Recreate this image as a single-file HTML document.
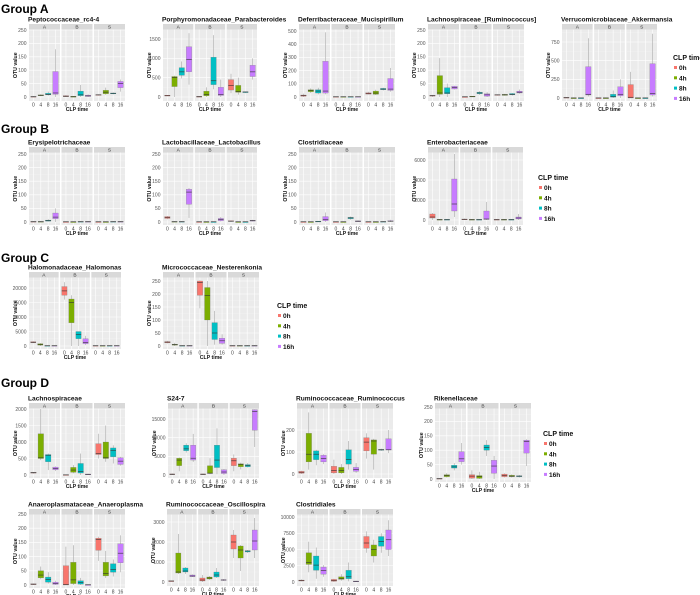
<!DOCTYPE html>
<html><head><meta charset="utf-8">
<style>
html,body{margin:0;padding:0;background:#fff;}
svg{display:block;font-family:"Liberation Sans",Arial,sans-serif;}
</style></head>
<body>
<svg id="fig" width="700" height="595" viewBox="0 0 700 595" xmlns="http://www.w3.org/2000/svg">
<text x="1" y="13" font-size="12" font-weight="bold">Group A</text>
<text x="1" y="133" font-size="12" font-weight="bold">Group B</text>
<text x="1" y="262" font-size="12" font-weight="bold">Group C</text>
<text x="1" y="387" font-size="12" font-weight="bold">Group D</text>
</svg>
<script>
const facets = ["A","B","S"];
const xLabels = ["0","4","8","16"];
const legendLabels = ["0h","4h","8h","16h"];
const colors = ["#F8766D","#7CAE00","#00BFC4","#C77CFF"];

// Each facet: 4 boxes of [min,q1,median,q3,max]
const pepA=[[0,0,1,2,3],[3,5,6,8,10],[5,8,10,14,20],[0,10,15,95,178]];
const pepB=[[0,1,3,5,7],[0,1,2,2,3],[0,5,8,22,45],[0,2,4,7,10]];
const pepS=[[5,7,8,9,10],[8,12,18,25,35],[10,12,13,15,17],[20,35,50,58,65]];
const parA=[[30,35,40,45,50],[0,270,500,530,550],[480,560,650,760,920],[320,650,970,1300,1650]];
const parB=[[0,5,10,15,20],[0,30,60,150,250],[200,320,420,1030,1600],[0,40,70,250,450]];
const parS=[[100,180,300,450,600],[60,120,140,300,500],[100,120,130,135,140],[450,530,650,820,1000]];
const mucA=[[0,5,10,15,25],[30,40,50,55,65],[20,30,45,55,70],[20,30,45,270,490]];
const mucB=[[0,1,2,3,4],[0,1,2,3,4],[0,1,2,3,4],[0,1,2,3,4]];
const mucS=[[20,22,28,32,40],[15,20,30,45,55],[50,55,60,65,70],[40,50,60,140,220]];
const rumA=[[0,3,5,6,8],[0,10,15,80,145],[0,12,15,35,50],[28,30,35,40,42]];
const rumB=[[0,0,1,1,2],[0,1,2,3,4],[8,12,15,18,22],[0,3,8,12,18]];
const rumS=[[5,7,8,9,10],[5,6,8,10,12],[5,8,10,13,15],[12,15,18,22,28]];
const akkA=[[0,0,5,8,10],[0,0,1,2,3],[0,0,1,2,3],[20,40,50,420,800]];
const akkB=[[0,0,1,2,3],[0,0,1,2,3],[0,10,20,50,100],[0,30,50,150,250]];
const akkS=[[0,0,10,180,350],[0,0,1,2,3],[0,0,1,2,3],[20,40,60,460,860]];
const eryA=[[0,0,1,2,3],[0,0,1,2,3],[2,3,5,7,10],[0,12,18,33,50]];
const eryB=[[0,0,1,1,2],[0,0,1,1,2],[0,0,1,2,3],[0,0,1,2,3]];
const eryS=[[0,0,1,1,2],[0,0,1,1,2],[0,0,1,2,3],[0,0,1,2,3]];
const lacA=[[10,13,17,20,22],[0,0,1,2,3],[0,0,1,2,3],[15,65,110,120,125]];
const lacB=[[0,0,1,1,2],[0,0,1,1,2],[0,0,1,1,2],[2,5,10,13,18]];
const lacS=[[0,2,3,5,6],[0,0,1,1,2],[0,0,1,1,2],[2,3,5,6,8]];
const cloA=[[0,0,1,1,2],[0,0,1,1,2],[0,1,2,3,4],[0,5,10,20,35]];
const cloB=[[0,0,1,1,2],[0,0,1,1,2],[8,12,15,17,20],[0,2,3,4,6]];
const cloS=[[0,0,1,1,2],[0,0,1,1,2],[0,0,1,2,3],[0,2,3,5,8]];
const entA=[[0,200,300,600,700],[0,20,40,60,80],[0,20,40,60,80],[300,900,1600,4100,6600]];
const entB=[[0,40,60,100,150],[0,20,40,60,80],[0,20,40,60,80],[0,50,100,900,1800]];
const entS=[[0,20,40,60,80],[0,20,40,60,80],[0,20,40,60,80],[0,100,200,300,600]];
const halA=[[1000,1100,1300,1500,1600],[0,300,500,800,1000],[0,50,100,150,200],[0,50,100,150,200]];
const halB=[[16000,17500,19000,20500,22000],[0,8000,15000,16200,17500],[0,2500,4000,5000,5000],[300,800,1200,2500,3500]];
const halS=[[0,50,100,150,200],[0,50,100,150,200],[0,50,100,150,200],[0,50,100,150,200]];
const nesA=[[10,12,15,17,20],[0,3,5,7,12],[0,0,1,2,3],[0,0,1,2,3]];
const nesB=[[145,195,245,250,252],[0,100,195,225,250],[5,25,50,90,135],[5,10,20,30,45]];
const nesS=[[0,0,1,2,3],[0,0,1,2,3],[0,0,1,2,3],[0,0,1,2,3]];
const lchA=[[40,60,70,80,90],[450,500,520,1250,2000],[150,400,600,620,650],[120,160,200,240,260]];
const lchB=[[0,0,5,10,15],[50,80,150,230,300],[0,60,100,350,650],[0,10,20,30,40]];
const lchS=[[500,620,650,950,1250],[400,500,520,1000,1500],[350,550,750,820,900],[280,320,420,520,550]];
const s24A=[[0,100,200,300,400],[1000,2500,4000,4500,4700],[6000,6500,7000,8000,8500],[3500,4000,4500,8000,11000]];
const s24B=[[0,100,200,300,400],[200,400,500,2500,4500],[200,2000,4000,8000,12500],[0,400,800,1400,1600]];
const s24S=[[1000,2500,3800,4500,5500],[1500,2200,2800,3000,3300],[2000,2200,2500,2800,3200],[7500,12000,17000,17500,17600]];
const rcoA=[[0,3,8,12,15],[20,55,90,185,280],[40,65,90,105,110],[45,55,70,85,90]];
const rcoB=[[0,5,15,35,65],[0,5,15,30,45],[20,45,65,110,150],[5,12,20,30,50]];
const rcoS=[[70,105,145,165,185],[20,90,150,155,160],[105,108,110,112,115],[95,110,110,160,200]];
const rikA=[[0,0,1,2,3],[5,8,12,15,20],[30,38,42,48,55],[50,60,70,95,125]];
const rikB=[[0,3,10,15,30],[0,2,8,12,25],[80,100,110,118,135],[0,20,45,65,80]];
const rikS=[[5,8,12,17,20],[5,8,10,13,16],[5,8,10,11,14],[45,90,130,135,138]];
const anaA=[[0,2,3,4,5],[20,25,35,50,65],[5,10,20,28,45],[0,2,5,10,15]];
const anaB=[[0,0,2,68,135],[0,5,18,80,140],[0,3,8,15,25],[0,0,1,1,2]];
const anaS=[[85,122,160,165,170],[25,32,40,80,120],[30,45,55,75,90],[45,78,112,145,175]];
const oscA=[[30,40,50,60,70],[400,450,500,1450,2400],[400,500,550,700,750],[250,270,300,350,380]];
const oscB=[[0,50,100,200,350],[100,150,200,250,300],[200,250,350,500,700],[50,80,100,120,150]];
const oscS=[[1200,1650,2000,2350,2600],[550,1200,1600,1800,1850],[1450,1500,1550,1560,1600],[1200,1600,2050,2600,3200]];
const csdA=[[100,150,200,300,400],[1500,2700,3000,4500,6200],[500,1800,2600,4000,5300],[800,1200,1800,2300,2600]];
const csdB=[[0,100,200,400,500],[200,400,500,800,1200],[100,500,800,1800,3000],[0,50,100,150,200]];
const csdS=[[4500,5200,6000,7000,7800],[3000,4000,5000,5700,6500],[4500,5500,6200,7000,7500],[4000,5000,6500,8000,9500]];

const ticks250=[0,50,100,150,200,250];
const ticksPar=[0,500,1000,1500];
const ticksMuc=[0,100,200,300,400,500];
const ticksAkk=[0,250,500,750];
const ticksEnt=[0,2000,4000,6000];
const ticksHal=[0,5000,10000,15000,20000];
const ticksLch=[0,500,1000,1500,2000];
const ticksS24=[0,5000,10000,15000];
const ticksRco=[0,100,200];
const ticksOsc=[0,1000,2000,3000];
const ticksCsd=[0,2500,5000,7500,10000];

const panels=[
 {n:"peptococcaceae",t:"Peptococcaceae_rc4-4",L:29,R:125,st:24,pb:101,z:97,rv:250,rp:30,ticks:ticks250,d:[pepA,pepB,pepS]},
 {n:"parabacteroides",t:"Porphyromonadaceae_Parabacteroides",L:163,R:257,st:24,pb:101,z:97,rv:1500,rp:39,ticks:ticksPar,d:[parA,parB,parS]},
 {n:"mucispirillum",t:"Deferribacteraceae_Mucispirillum",L:299,R:395,st:24,pb:101,z:97,rv:500,rp:31,ticks:ticksMuc,d:[mucA,mucB,mucS]},
 {n:"ruminococcus-lachno",t:"Lachnospiraceae_[Ruminococcus]",L:428,R:524,st:24,pb:101,z:97,rv:250,rp:30,ticks:ticks250,d:[rumA,rumB,rumS]},
 {n:"akkermansia",t:"Verrucomicrobiaceae_Akkermansia",L:562,R:657,st:24,pb:101,z:98,rv:750,rp:42,ticks:ticksAkk,d:[akkA,akkB,akkS]},
 {n:"erysipelotrichaceae",t:"Erysipelotrichaceae",L:29,R:125,st:147,pb:225,z:222,rv:250,rp:154,ticks:ticks250,d:[eryA,eryB,eryS]},
 {n:"lactobacillus",t:"Lactobacillaceae_Lactobacillus",L:163,R:257,st:147,pb:225,z:222,rv:250,rp:154,ticks:ticks250,d:[lacA,lacB,lacS]},
 {n:"clostridiaceae",t:"Clostridiaceae",L:299,R:395,st:147,pb:225,z:222,rv:250,rp:154,ticks:ticks250,d:[cloA,cloB,cloS]},
 {n:"enterobacteriaceae",t:"Enterobacteriaceae",L:428,R:523,st:147,pb:225,z:220,rv:6000,rp:160,ticks:ticksEnt,d:[entA,entB,entS]},
 {n:"halomonas",t:"Halomonadaceae_Halomonas",L:29,R:121,st:272,pb:349,z:346,rv:20000,rp:288,ticks:ticksHal,d:[halA,halB,halS]},
 {n:"nesterenkonia",t:"Micrococcaceae_Nesterenkonia",L:163,R:259,st:272,pb:349,z:346,rv:250,rp:281,ticks:ticks250,d:[nesA,nesB,nesS]},
 {n:"lachnospiraceae",t:"Lachnospiraceae",L:29,R:125,st:403,pb:478,z:475,rv:2000,rp:409,ticks:ticksLch,d:[lchA,lchB,lchS]},
 {n:"s24-7",t:"S24-7",L:168,R:259,st:403,pb:478,z:475,rv:15000,rp:419,ticks:ticksS24,d:[s24A,s24B,s24S]},
 {n:"ruminococcus",t:"Ruminococcaceae_Ruminococcus",L:297,R:393,st:403,pb:478,z:474,rv:200,rp:430,ticks:ticksRco,d:[rcoA,rcoB,rcoS]},
 {n:"rikenellaceae",t:"Rikenellaceae",L:435,R:531,st:403,pb:482,z:479,rv:250,rp:407,ticks:ticks250,d:[rikA,rikB,rikS]},
 {n:"anaeroplasma",t:"Anaeroplasmataceae_Anaeroplasma",L:29,R:125,st:509,pb:588,z:585,rv:250,rp:514,ticks:ticks250,d:[anaA,anaB,anaS]},
 {n:"oscillospira",t:"Ruminococcaceae_Oscillospira",L:167,R:259,st:509,pb:586,z:582,rv:3000,rp:522,ticks:ticksOsc,d:[oscA,oscB,oscS]},
 {n:"clostridiales",t:"Clostridiales",L:297,R:393,st:509,pb:586,z:582,rv:10000,rp:517,ticks:ticksCsd,d:[csdA,csdB,csdS]}
];
const legends=[{x:673,y:57},{x:538,y:177},{x:277,y:305},{x:543,y:433}];

const svg=document.getElementById('fig');
const NS="http://www.w3.org/2000/svg";
function mk(tag,attrs,parent){const e=document.createElementNS(NS,tag);for(const k in attrs)e.setAttribute(k,attrs[k]);(parent||svg).appendChild(e);return e;}
function fmt(v){return String(v);}

panels.forEach(p=>{
  const g=mk('g',{});
  
  
  const ys=v=>p.z-(v/p.rv)*(p.z-p.rp);
  const inv=px=>(p.z-px)/(p.z-p.rp)*p.rv;
  const gap=1.5, fw=(p.R-p.L-2*gap)/3;
  const pt=p.st+5.5;
  const title=mk('text',{x:p.L-1,y:p.st-2.5,'font-size':6.6,'font-weight':'bold',fill:'#111'},g);
  title.textContent=p.t;
  
  
  const yl=mk('text',{x:0,y:0,'font-size':5.2,'font-weight':'bold',fill:'#111','text-anchor':'middle',transform:`translate(${p.L-12},${(pt+p.pb)/2}) rotate(-90)`},g);
  yl.textContent="OTU value";
  
  
  p.ticks.forEach(t=>{
    const tl=mk('text',{x:p.L-2.5,y:ys(t)+1.8,'font-size':5,fill:'#555','text-anchor':'end'},g);
    tl.textContent=fmt(t);
    
    
  });
  const step=p.ticks[1]-p.ticks[0];
  const topVal=inv(pt);
  facets.forEach((f,fi)=>{
    const fx=p.L+fi*(fw+gap);
    const st=mk('rect',{x:fx,y:p.st,width:fw,height:5.5,fill:'#D9D9D9'},g);
    
    
    const sl=mk('text',{x:fx+fw/2,y:p.st+4.5,'font-size':4.8,fill:'#333','text-anchor':'middle'},g);
    sl.textContent=f;
    
    
    const bg=mk('rect',{x:fx,y:pt,width:fw,height:p.pb-pt,fill:'#EBEBEB'},g);
    
    
    for(let v=p.ticks[0]-step/2; v<=topVal; v+=step/2){
      const yy=ys(v); if(yy<pt||yy>p.pb) continue;
      const major=Math.abs((v/step)-Math.round(v/step))<1e-6;
      mk('line',{x1:fx,x2:fx+fw,y1:yy,y2:yy,stroke:major?'#fff':'#F5F5F5','stroke-width':major?0.6:0.3},g);
    }
    const unit=fw/4.2;
    xLabels.forEach((xl,i)=>{
      const cx=fx+(i+0.6)*unit;
      mk('line',{x1:cx,x2:cx,y1:pt,y2:p.pb,stroke:'#fff','stroke-width':0.6},g);
      const t=mk('text',{x:cx,y:p.pb+5.5,'font-size':5,fill:'#444','text-anchor':'middle'},g);
      t.textContent=xl;
      
      
    });
    p.d[fi].forEach((b,i)=>{
      const cx=fx+(i+0.6)*unit, bw=0.75*unit;
      const bx=mk('g',{},g);
      
      
      mk('line',{x1:cx,x2:cx,y1:ys(b[0]),y2:ys(b[4]),stroke:'#999','stroke-width':0.5},bx);
      const y3=ys(b[3]), y1=ys(b[1]);
      mk('rect',{x:cx-bw/2,y:y3,width:bw,height:Math.max(0.8,y1-y3),fill:colors[i],stroke:'#777','stroke-width':0.25},bx);
      mk('line',{x1:cx-bw/2,x2:cx+bw/2,y1:ys(b[2]),y2:ys(b[2]),stroke:'#333','stroke-width':0.6},bx);
    });
  });
  const xt=mk('text',{x:(p.L+p.R)/2,y:p.pb+10,'font-size':5.2,'font-weight':'bold',fill:'#111','text-anchor':'middle'},g);
  xt.textContent="CLP time";
  
  
});

legends.forEach((l,li)=>{
  const g=mk('g',{});
  
  
  const t=mk('text',{x:l.x,y:l.y+3,'font-size':7,'font-weight':'bold',fill:'#111'},g);
  t.textContent="CLP time";
  
  
  legendLabels.forEach((lab,i)=>{
    const yy=l.y+10.5+i*10.3;
    const e=mk('g',{},g);
    
    
    mk('rect',{x:l.x+1,y:yy-1.5,width:3,height:3,fill:colors[i]},e);
    const tx=mk('text',{x:l.x+6,y:yy+2.6,'font-size':6.5,'font-weight':'bold',fill:'#111'},e);
    tx.textContent=lab;
  });
});
</script>
</body></html>
